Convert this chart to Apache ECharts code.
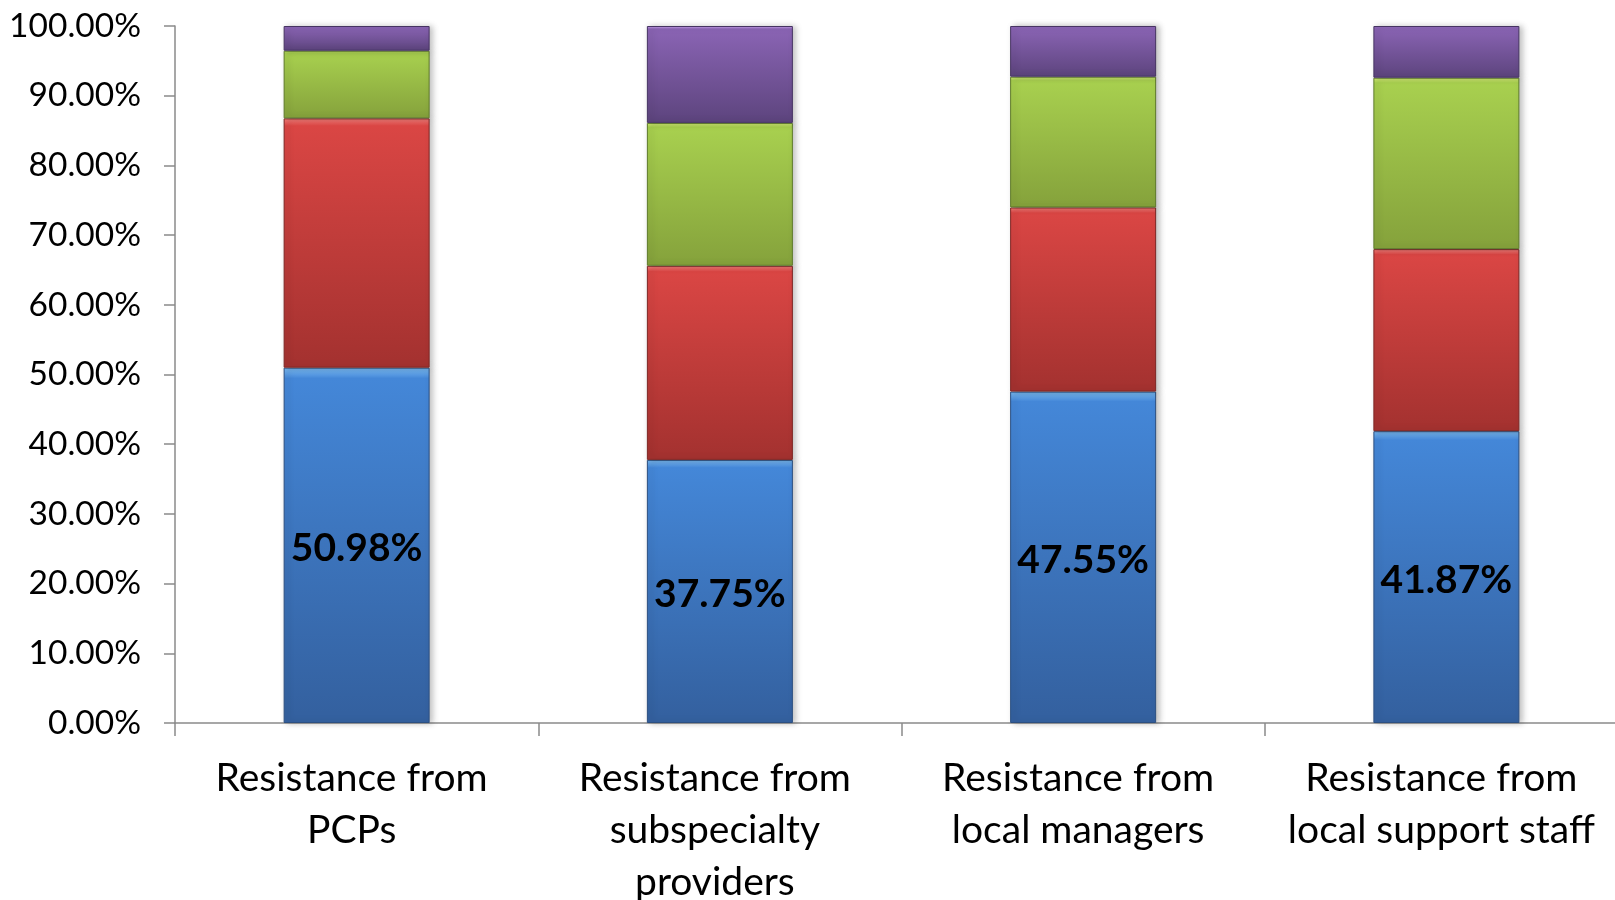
<!DOCTYPE html>
<html>
<head>
<meta charset="utf-8">
<script src="https://cdn.jsdelivr.net/npm/echarts@6/dist/echarts.min.js"></script>
<style>
html,body{margin:0;padding:0;background:#fff;}
#c{width:1615px;height:900px;}
</style>
</head>
<body>
<div id="c"></div>
<script>
const categories = [
  "Resistance from\nPCPs",
  "Resistance from\nsubspecialty\nproviders",
  "Resistance from\nlocal managers",
  "Resistance from\nlocal support staff"
];
const blueValues = [50.98, 37.75, 47.55, 41.87];
const redValues = [35.77, 27.85, 26.42, 26.12];
const greenValues = [9.70, 20.50, 18.76, 24.59];
const purpleValues = [3.55, 13.90, 7.27, 7.42];
const yTicks = { min: 0, max: 100, interval: 10 };

function grad(top, mid, bot) {
  return new echarts.graphic.LinearGradient(0, 0, 0, 1, [
    { offset: 0, color: top },
    { offset: 0.03, color: mid },
    { offset: 0.97, color: bot },
    { offset: 1, color: bot }
  ]);
}

const chart = echarts.init(document.getElementById('c'), null, { renderer: 'canvas' });
const FONT = 'Lato';
function seg(name, data, top, mid, bot, border, withLabel) {
  return {
    name: name,
    type: 'bar',
    stack: 'total',
    barWidth: 146,
    data: data,
    itemStyle: {
      color: grad(top, mid, bot),
      borderColor: border,
      borderWidth: 1,
      shadowColor: 'rgba(0,0,0,0.25)',
      shadowBlur: 6,
      shadowOffsetX: 3,
      shadowOffsetY: 0
    },
    label: withLabel ? {
      show: true,
      position: 'inside',
      offset: [0, 3],
      formatter: p => p.value.toFixed(2) + '%',
      color: '#000',
      fontFamily: FONT,
      fontWeight: 'bold',
      fontSize: 39
    } : { show: false },
    emphasis: { disabled: true }
  };
}

chart.setOption({
  animation: false,
  backgroundColor: '#ffffff',
  grid: { left: 175, top: 26, height: 697, width: 1453, containLabel: false, outerBoundsMode: 'none' },
  xAxis: {
    type: 'category',
    data: categories,
    axisLine: { lineStyle: { color: '#8a8a8a', width: 1.5 } },
    axisTick: { show: true, alignWithLabel: false, length: 13, lineStyle: { color: '#8a8a8a', width: 1.5 } },
    axisLabel: {
      interval: 0,
      margin: 29,
      color: '#000',
      fontFamily: FONT,
      fontSize: 39,
      lineHeight: 52,
      padding: [0, 10, 0, 0]
    }
  },
  yAxis: {
    type: 'value',
    min: yTicks.min,
    max: yTicks.max,
    interval: yTicks.interval,
    splitLine: { show: false },
    axisLine: { show: true, lineStyle: { color: '#8a8a8a', width: 1.5 } },
    axisTick: { show: true, length: 11, lineStyle: { color: '#8a8a8a', width: 1.5 } },
    axisLabel: {
      margin: 34,
      color: '#000',
      fontFamily: FONT,
      fontSize: 33.5,
      formatter: v => v.toFixed(2) + '%'
    }
  },
  series: [
    seg('Blue', blueValues, '#7dbdf5', '#4487d8', '#3461a0', '#2c4f80', true),
    seg('Red', redValues, '#ff8480', '#da4644', '#a53230', '#7e2624', false),
    seg('Green', greenValues, '#dcf57a', '#a8d04f', '#86a33c', '#5e7a2a', false),
    seg('Purple', purpleValues, '#d2aaf5', '#8a64b4', '#5e457f', '#463462', false)
  ]
});
</script>
</body>
</html>
